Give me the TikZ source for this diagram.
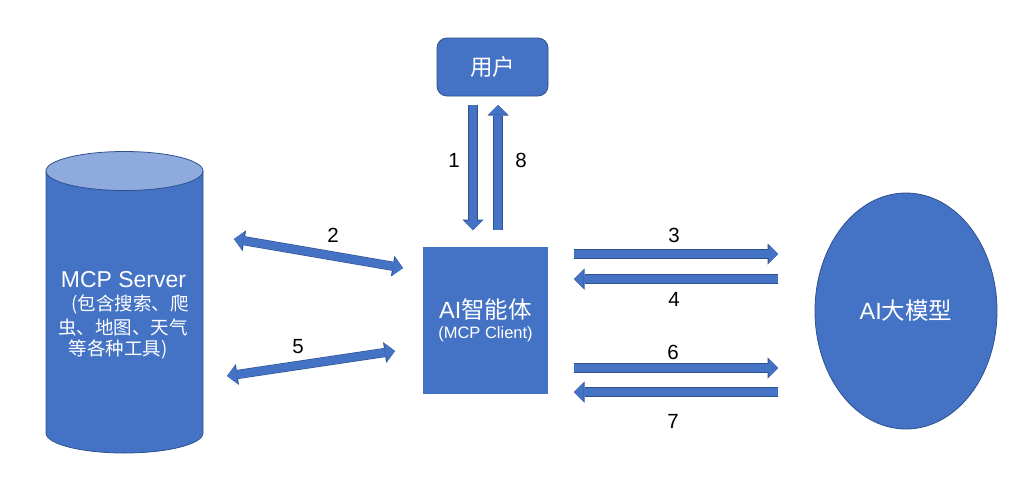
\documentclass[tikz,border=0pt]{standalone}
\usepackage{fontspec}
\setmainfont{Liberation Sans}
\newfontfamily\cjk{Noto Sans CJK SC}
\usetikzlibrary{arrows.meta,shapes.geometric}
\definecolor{fillblue}{HTML}{4472C4}
\definecolor{lineblue}{HTML}{2F528F}
\definecolor{topblue}{HTML}{8FAADC}
\tikzset{
  tipin/.tip={Triangle[width=19pt,length=9.5pt,line width=0pt]},
  tipout/.tip={Triangle[width=21pt,length=10.5pt,line width=0pt]},
  barrow/.style={draw=fillblue, line width=8pt, -tipin,
     preaction={draw=lineblue, line width=9.2pt, -tipout}},
  dbarrow/.style={draw=fillblue, line width=8pt, tipin-tipin,
     preaction={draw=lineblue, line width=9.2pt, tipout-tipout}},
  num/.style={anchor=base, font=\fontsize{20.5}{24}\selectfont, text=black, inner sep=0pt},
  wtxt/.style={text=white, inner sep=0pt},
}
\begin{document}
\begin{tikzpicture}[x=1pt,y=-1pt]
\useasboundingbox[fill=white] (0,0) rectangle (1028,499);

% cylinder (MCP Server)
\path[fill=fillblue, draw=lineblue, line width=0.8pt]
  (46,171) -- (46,433) arc[start angle=180, end angle=0, x radius=78.5, y radius=20] -- (203,171);
\draw[fill=topblue, draw=lineblue, line width=0.8pt] (124.5,171) ellipse [x radius=78.5, y radius=19.5];
\node[wtxt, anchor=base, font=\fontsize{23}{26}\selectfont] (srv1) at (123.5,287) {MCP Server};
\node[wtxt, anchor=base, font=\cjk\fontsize{18.5}{22}\selectfont] (srv2) at (130,310) {(包含搜索、爬};
\node[wtxt, anchor=base, font=\cjk\fontsize{18.5}{22}\selectfont] (srv3) at (123,334) {虫、地图、天气};
\node[wtxt, anchor=base, font=\cjk\fontsize{18.5}{22}\selectfont] (srv4) at (118,355) {等各种工具)};

% user box
\node[draw=lineblue, fill=fillblue, line width=0.8pt, rounded corners=10pt,
      minimum width=111pt, minimum height=58pt, inner sep=0pt, text=white,
      font=\cjk\fontsize{22.5}{26}\selectfont] (user) at (492.5,67) {用户};

% agent box
\node[fill=fillblue, minimum width=125pt, minimum height=147pt, inner sep=0pt,
      text=white, align=center, font=\fontsize{16.5}{20}\selectfont] (agent) at (485.5,320.5)
  {{\fontsize{23.5}{20}\selectfont AI{\cjk 智能体}}\\{\fontsize{16.5}{20}\selectfont (MCP Client)}};

% LLM ellipse
\node[ellipse, fill=fillblue, draw=lineblue, line width=0.8pt, minimum width=182pt,
      minimum height=236pt, inner sep=0pt, text=white,
      font=\fontsize{23.5}{26}\selectfont] (llm) at (906,311) {AI{\cjk 大模型}};

% arrow end points
\coordinate (a1s) at (473,105); \coordinate (a1e) at (473,230);
\coordinate (a8s) at (498,230); \coordinate (a8e) at (498,105);
\coordinate (a2l) at (234,239); \coordinate (a2r) at (403,268);
\coordinate (a5l) at (227,376); \coordinate (a5r) at (395,351);
\coordinate (a3s) at (574,254); \coordinate (a3e) at (778,254);
\coordinate (a4s) at (778,279); \coordinate (a4e) at (574,279);
\coordinate (a6s) at (574,368); \coordinate (a6e) at (778,368);
\coordinate (a7s) at (778,392); \coordinate (a7e) at (574,392);

\draw[barrow] (a1s) -- (a1e);
\draw[barrow] (a8s) -- (a8e);
\draw[dbarrow] (a2l) -- (a2r);
\draw[dbarrow] (a5l) -- (a5r);
\draw[barrow] (a3s) -- (a3e);
\draw[barrow] (a4s) -- (a4e);
\draw[barrow] (a6s) -- (a6e);
\draw[barrow] (a7s) -- (a7e);

% labels
\node[num] (n1) at (454,167) {1};
\node[num] (n8) at (521,167) {8};
\node[num] (n2) at (333,242) {2};
\node[num] (n5) at (298,353) {5};
\node[num] (n3) at (674,242) {3};
\node[num] (n4) at (674,306) {4};
\node[num] (n6) at (673,359) {6};
\node[num] (n7) at (673,428) {7};
\end{tikzpicture}
\end{document}
